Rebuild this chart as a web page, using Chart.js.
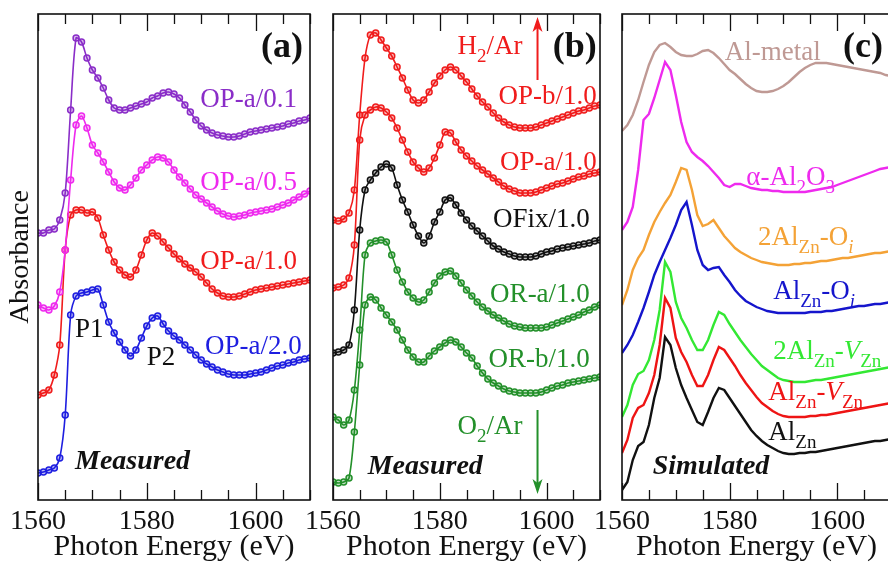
<!DOCTYPE html>
<html>
<head>
<meta charset="utf-8">
<script src="https://cdn.jsdelivr.net/npm/chart.js@4.4.1/dist/chart.umd.min.js"></script>
<style>
  html, body { margin: 0; padding: 0; background: #fff; overflow: hidden; }
  #wrap { position: relative; width: 888px; height: 567px; overflow: hidden; }
  canvas { position: absolute; top: 0; }
</style>
</head>
<body>
<div id="wrap">
  <canvas id="pa" width="320" height="567" style="left:0px"></canvas>
  <canvas id="pb" width="310" height="567" style="left:300px"></canvas>
  <canvas id="pc" width="312" height="567" style="left:589px"></canvas>
</div>
<script>
// photon energy grid (eV), shared by every spectrum
var ENERGY = [
  1560, 1561, 1562, 1563, 1564, 1565, 1566, 1567, 1568, 1569,
  1570, 1571, 1572, 1573, 1574, 1575, 1576, 1577, 1578, 1579,
  1580, 1581, 1582, 1583, 1584, 1585, 1586, 1587, 1588, 1589,
  1590, 1591, 1592, 1593, 1594, 1595, 1596, 1597, 1598, 1599,
  1600, 1601, 1602, 1603, 1604, 1605, 1606, 1607, 1608, 1609,
  1610
];
var X_TICK_LABELS = [1560, 1580, 1600];

// (a) measured, stacked absorbance (arb. units)
var OPA_01 = [
  2.67, 2.67, 2.70, 2.71, 2.80, 3.07, 3.90, 4.62, 4.58, 4.42,
  4.30, 4.22, 4.12, 4.00, 3.92, 3.90, 3.90, 3.92, 3.94, 3.96,
  3.98, 4.02, 4.04, 4.07, 4.08, 4.06, 4.02, 3.95, 3.88, 3.80,
  3.74, 3.70, 3.67, 3.65, 3.64, 3.63, 3.63, 3.64, 3.66, 3.68,
  3.69, 3.70, 3.71, 3.72, 3.73, 3.74, 3.76, 3.77, 3.79, 3.80,
  3.82
];
var OPA_05 = [
  1.95, 1.92, 1.90, 1.94, 2.08, 2.50, 3.20, 3.75, 3.84, 3.72,
  3.55, 3.47, 3.38, 3.28, 3.18, 3.12, 3.10, 3.15, 3.22, 3.30,
  3.35, 3.40, 3.43, 3.42, 3.38, 3.30, 3.23, 3.17, 3.11, 3.05,
  3.01, 2.97, 2.93, 2.89, 2.86, 2.84, 2.83, 2.84, 2.85, 2.87,
  2.88, 2.89, 2.90, 2.91, 2.93, 2.95, 2.97, 3.00, 3.03, 3.06,
  3.09
];
var OPA_10 = [
  1.05, 1.07, 1.10, 1.25, 1.55, 2.50, 2.85, 2.90, 2.90, 2.87,
  2.88, 2.82, 2.65, 2.50, 2.38, 2.30, 2.25, 2.23, 2.30, 2.45,
  2.60, 2.67, 2.64, 2.58, 2.52, 2.46, 2.41, 2.36, 2.32, 2.28,
  2.23, 2.17, 2.11, 2.07, 2.04, 2.03, 2.03, 2.04, 2.06, 2.08,
  2.10, 2.11, 2.12, 2.13, 2.14, 2.15, 2.16, 2.17, 2.18, 2.19,
  2.20
];
var OPA_20 = [
  0.27, 0.28, 0.30, 0.32, 0.42, 0.85, 1.85, 2.04, 2.07, 2.08,
  2.10, 2.11, 1.95, 1.78, 1.67, 1.58, 1.50, 1.44, 1.50, 1.62,
  1.74, 1.82, 1.84, 1.76, 1.69, 1.64, 1.60, 1.55, 1.50, 1.45,
  1.40, 1.36, 1.33, 1.30, 1.28, 1.26, 1.25, 1.25, 1.25, 1.26,
  1.27, 1.28, 1.30, 1.32, 1.34, 1.35, 1.37, 1.38, 1.40, 1.41,
  1.42
];

// (b) measured
var OPB_10B = [
  2.80, 2.79, 2.81, 2.87, 3.10, 3.85, 4.42, 4.65, 4.67, 4.60,
  4.52, 4.44, 4.33, 4.22, 4.10, 4.00, 3.97, 4.00, 4.08, 4.17,
  4.24, 4.30, 4.33, 4.30, 4.24, 4.18, 4.11, 4.04, 3.98, 3.93,
  3.87, 3.82, 3.78, 3.75, 3.73, 3.72, 3.72, 3.72, 3.73, 3.75,
  3.77, 3.79, 3.81, 3.83, 3.85, 3.87, 3.89, 3.90, 3.92, 3.94,
  3.95
];
var OPA_10B = [
  2.12, 2.13, 2.15, 2.22, 2.55, 3.60, 3.85, 3.90, 3.93, 3.92,
  3.88, 3.82, 3.72, 3.60, 3.48, 3.38, 3.32, 3.28, 3.32, 3.42,
  3.55, 3.68, 3.67, 3.58, 3.50, 3.44, 3.39, 3.34, 3.30, 3.26,
  3.22, 3.18, 3.14, 3.11, 3.09, 3.07, 3.07, 3.07, 3.08, 3.10,
  3.12, 3.14, 3.16, 3.17, 3.19, 3.21, 3.23, 3.24, 3.26, 3.27,
  3.28
];
var OFIX_10 = [
  1.47, 1.48, 1.50, 1.55, 1.90, 2.70, 3.10, 3.20, 3.27, 3.33,
  3.36, 3.32, 3.15, 3.00, 2.88, 2.75, 2.64, 2.57, 2.64, 2.78,
  2.88, 3.00, 3.02, 2.95, 2.87, 2.80, 2.74, 2.69, 2.64, 2.59,
  2.54, 2.51, 2.48, 2.46, 2.44, 2.43, 2.43, 2.43, 2.44, 2.46,
  2.48, 2.49, 2.51, 2.52, 2.53, 2.54, 2.55, 2.56, 2.57, 2.59,
  2.60
];
var ORA_10 = [
  0.83, 0.80, 0.75, 0.80, 1.10, 1.70, 2.45, 2.57, 2.59, 2.60,
  2.58, 2.45, 2.30, 2.18, 2.08, 2.02, 1.98, 2.00, 2.08, 2.17,
  2.24, 2.28, 2.29, 2.24, 2.17, 2.10, 2.04, 1.98, 1.93, 1.89,
  1.85, 1.82, 1.79, 1.76, 1.74, 1.73, 1.72, 1.72, 1.72, 1.72,
  1.73, 1.75, 1.77, 1.79, 1.81, 1.83, 1.85, 1.88, 1.90, 1.93,
  1.95
];
var ORB_10 = [
  0.18, 0.17, 0.18, 0.22, 0.68, 1.35, 1.95, 2.03, 2.00, 1.92,
  1.85, 1.78, 1.70, 1.60, 1.50, 1.43, 1.38, 1.38, 1.44, 1.49,
  1.53, 1.57, 1.60, 1.58, 1.53, 1.47, 1.42, 1.34, 1.27, 1.21,
  1.17, 1.14, 1.11, 1.09, 1.08, 1.07, 1.07, 1.07, 1.07, 1.08,
  1.10, 1.12, 1.14, 1.15, 1.17, 1.18, 1.19, 1.20, 1.21, 1.22,
  1.23
];

// (c) simulated
var AL_METAL = [
  3.69, 3.75, 3.85, 4.00, 4.18, 4.35, 4.48, 4.55, 4.57, 4.53,
  4.48, 4.45, 4.44, 4.44, 4.46, 4.49, 4.50, 4.47, 4.42, 4.36,
  4.30, 4.26, 4.21, 4.16, 4.12, 4.09, 4.08, 4.08, 4.09, 4.11,
  4.14, 4.18, 4.23, 4.28, 4.32, 4.35, 4.37, 4.37, 4.37, 4.36,
  4.35, 4.34, 4.33, 4.32, 4.31, 4.30, 4.29, 4.28, 4.27, 4.25,
  4.24
];
var ALPHA_AL2O3 = [
  2.70, 2.78, 2.93, 3.30, 3.80, 3.86, 4.02, 4.20, 4.38, 4.30,
  4.05, 3.78, 3.58, 3.48, 3.43, 3.39, 3.34, 3.28, 3.22, 3.15,
  3.13, 3.16, 3.16, 3.14, 3.12, 3.11, 3.10, 3.10, 3.09, 3.09,
  3.08, 3.08, 3.08, 3.08, 3.08, 3.09, 3.10, 3.11, 3.12, 3.13,
  3.15, 3.17, 3.19, 3.21, 3.23, 3.25, 3.27, 3.29, 3.31, 3.32,
  3.33
];
var AL2_OI = [
  1.95, 2.10, 2.30, 2.42, 2.50, 2.65, 2.78, 2.88, 2.97, 3.05,
  3.18, 3.32, 3.30, 3.10, 2.85, 2.74, 2.76, 2.80, 2.72, 2.64,
  2.58, 2.52, 2.48, 2.45, 2.42, 2.40, 2.38, 2.37, 2.36, 2.35,
  2.35, 2.35, 2.36, 2.36, 2.37, 2.37, 2.38, 2.39, 2.39, 2.40,
  2.41, 2.42, 2.42, 2.43, 2.44, 2.45, 2.46, 2.47, 2.47, 2.48,
  2.49
];
var AL_OI = [
  1.47, 1.55, 1.65, 1.78, 1.92, 2.08, 2.25, 2.38, 2.50, 2.62,
  2.75, 2.90, 2.98, 2.75, 2.50, 2.35, 2.30, 2.32, 2.33, 2.25,
  2.18, 2.10, 2.04, 1.99, 1.96, 1.93, 1.91, 1.89, 1.88, 1.87,
  1.87, 1.87, 1.87, 1.87, 1.87, 1.88, 1.88, 1.88, 1.89, 1.89,
  1.90, 1.91, 1.92, 1.93, 1.94, 1.94, 1.95, 1.96, 1.96, 1.97,
  1.98
];
var AL2_VZN = [
  0.83, 0.95, 1.15, 1.26, 1.29, 1.40, 1.60, 1.90, 2.38, 2.28,
  1.98, 1.82, 1.72, 1.60, 1.50, 1.50, 1.60, 1.75, 1.88, 1.85,
  1.76, 1.68, 1.60, 1.53, 1.46, 1.40, 1.34, 1.30, 1.26, 1.22,
  1.20, 1.19, 1.18, 1.18, 1.18, 1.19, 1.20, 1.20, 1.21, 1.22,
  1.23, 1.24, 1.25, 1.26, 1.27, 1.28, 1.29, 1.30, 1.31, 1.32,
  1.33
];
var AL_VZN = [
  0.47, 0.60, 0.82, 0.92, 0.95, 1.07, 1.25, 1.55, 2.02, 1.92,
  1.62, 1.48, 1.38, 1.25, 1.14, 1.14, 1.25, 1.40, 1.53, 1.50,
  1.42, 1.34, 1.25, 1.17, 1.10, 1.03, 0.97, 0.93, 0.89, 0.86,
  0.84, 0.83, 0.83, 0.83, 0.83, 0.84, 0.84, 0.85, 0.85, 0.86,
  0.87, 0.88, 0.89, 0.90, 0.91, 0.92, 0.93, 0.94, 0.95, 0.96,
  0.97
];
var AL_ZN = [
  0.10, 0.18, 0.40, 0.54, 0.58, 0.75, 1.02, 1.22, 1.63, 1.55,
  1.32, 1.15, 1.02, 0.90, 0.78, 0.75, 0.88, 1.02, 1.12, 1.10,
  1.02, 0.94, 0.86, 0.78, 0.70, 0.64, 0.59, 0.55, 0.52, 0.49,
  0.47, 0.46, 0.46, 0.47, 0.47, 0.48, 0.48, 0.49, 0.50, 0.51,
  0.52, 0.53, 0.54, 0.55, 0.56, 0.57, 0.58, 0.59, 0.59, 0.60,
  0.61
];

var SERIF = "'Liberation Serif', 'Times New Roman', serif";
var PURPLE = "#8a2dc8", MAGENTA = "#ee2aee", RED = "#f01c1c", BLUE = "#1e1ee0";
var DKGREEN = "#23902a", BLACK = "#111", ROSY = "#bf9994", ORANGE = "#f4a236";
var BLUE_C = "#1515cc", GREEN_C = "#33e833", RED_C = "#ee1414";

function pts(vals) {
  return ENERGY.map(function (e, i) { return { x: e, y: vals[i] }; });
}

// translucent fill so the open circles read a little denser, like the scanned dots
function fade(hex, a) {
  var n = parseInt(hex.length === 4 ? hex.replace(/#(.)(.)(.)/, "$1$1$2$2$3$3") : hex.slice(1), 16);
  return "rgba(" + (n >> 16) + "," + ((n >> 8) & 255) + "," + (n & 255) + "," + a + ")";
}

function measured(vals, color) {
  return {
    data: pts(vals), borderColor: color, borderWidth: 1.6, tension: 0.3,
    pointRadius: 3, pointBorderWidth: 1.5, pointBorderColor: color,
    pointBackgroundColor: fade(color, 0.3)
  };
}

function simulated(vals, color) {
  return { data: pts(vals), borderColor: color, borderWidth: 2.4, tension: 0, pointRadius: 0 };
}

// segs: [text, style]  style: s = subscript, i = italic, b = bold
function drawNote(ctx, chart, n) {
  var size = n.size || 27;
  var px = chart.scales.x.getPixelForValue(n.x);
  var py = chart.scales.y.getPixelForValue(n.y);
  function fontOf(st) {
    st = st || "";
    var fs = st.indexOf("s") >= 0 ? Math.round(size * 0.7) : size;
    return (st.indexOf("i") >= 0 ? "italic " : "") + (st.indexOf("b") >= 0 ? "bold " : "") + fs + "px " + SERIF;
  }
  var w = 0;
  n.segs.forEach(function (s) { ctx.font = fontOf(s[1]); w += ctx.measureText(s[0]).width; });
  var x = n.align === "right" ? px - w : px;
  ctx.fillStyle = n.color || "#111";
  ctx.textBaseline = "middle";
  ctx.textAlign = "left";
  n.segs.forEach(function (s) {
    ctx.font = fontOf(s[1]);
    var dy = (s[1] || "").indexOf("s") >= 0 ? size * 0.38 : 0;
    ctx.fillText(s[0], x, py + dy);
    x += ctx.measureText(s[0]).width;
  });
}

function drawArrow(ctx, chart, a) {
  var px = chart.scales.x.getPixelForValue(a.x);
  var y1 = chart.scales.y.getPixelForValue(a.from);
  var y2 = chart.scales.y.getPixelForValue(a.to);
  var dir = y2 < y1 ? -1 : 1;
  ctx.strokeStyle = a.color; ctx.fillStyle = a.color; ctx.lineWidth = 2;
  ctx.beginPath(); ctx.moveTo(px, y1); ctx.lineTo(px, y2 - dir * 10); ctx.stroke();
  ctx.beginPath();
  ctx.moveTo(px, y2); ctx.lineTo(px - 5, y2 - dir * 15); ctx.lineTo(px, y2 - dir * 11);
  ctx.lineTo(px + 5, y2 - dir * 15); ctx.closePath(); ctx.fill();
}

function framePlugin(notes, arrows) {
  return {
    id: "frame",
    afterDatasetsDraw: function (chart) {
      var ctx = chart.ctx, a = chart.chartArea, xs = chart.scales.x;
      ctx.save();
      ctx.strokeStyle = "#111";
      ctx.lineWidth = 1.6;
      ctx.strokeRect(a.left, a.top, a.right - a.left, a.bottom - a.top);
      ctx.lineWidth = 1.3;
      xs.ticks.forEach(function (t) {
        var px = Math.round(xs.getPixelForValue(t.value)) + 0.5;
        var len = t.value % 20 === 0 ? 17 : 10;
        ctx.beginPath();
        ctx.moveTo(px, a.bottom); ctx.lineTo(px, a.bottom - len);
        ctx.moveTo(px, a.top); ctx.lineTo(px, a.top + len);
        ctx.stroke();
      });
      (arrows || []).forEach(function (ar) { drawArrow(ctx, chart, ar); });
      notes.forEach(function (n) { drawNote(ctx, chart, n); });
      ctx.restore();
    }
  };
}

function makePanel(id, datasets, padLeft, yTitle, notes, arrows) {
  var yScale = { min: 0, max: 4.86, display: false };
  if (yTitle) {
    yScale = {
      min: 0, max: 4.86, display: true,
      afterFit: function (s) { s.width = 38; },
      grid: { display: false, drawTicks: false }, border: { display: false },
      ticks: { display: false },
      title: { display: true, text: yTitle, color: "#111", font: { family: SERIF, size: 28 }, padding: { top: 4, bottom: 0 } }
    };
  }
  return new Chart(document.getElementById(id), {
    type: "line",
    data: { datasets: datasets },
    options: {
      responsive: false, animation: false, events: [],
      layout: { padding: { top: 14, right: 10, bottom: 0, left: padLeft } },
      plugins: { legend: { display: false }, tooltip: { enabled: false } },
      scales: {
        x: {
          type: "linear", min: 1560, max: 1610,
          afterFit: function (s) { s.height = 67; },
          grid: { display: false, drawTicks: false }, border: { display: false },
          ticks: {
            stepSize: 5, autoSkip: false, maxRotation: 0, padding: 5, color: "#111",
            font: { family: SERIF, size: 28 },
            callback: function (v) { return X_TICK_LABELS.indexOf(v) >= 0 ? String(v) : ""; }
          },
          title: { display: true, text: "Photon Energy (eV)", color: "#111", font: { family: SERIF, size: 30 }, padding: { top: 0, bottom: 2 } }
        },
        y: yScale
      }
    },
    plugins: [framePlugin(notes, arrows)]
  });
}

makePanel("pa", [
  measured(OPA_01, PURPLE), measured(OPA_05, MAGENTA),
  measured(OPA_10, RED), measured(OPA_20, BLUE)
], 0, "Absorbance", [
  { x: 1608.7, y: 4.52, align: "right", size: 36, segs: [["(a)", "b"]] },
  { x: 1607.6, y: 4.00, align: "right", color: PURPLE, segs: [["OP-a/0.1"]] },
  { x: 1607.6, y: 3.17, align: "right", color: MAGENTA, segs: [["OP-a/0.5"]] },
  { x: 1607.6, y: 2.38, align: "right", color: RED, segs: [["OP-a/1.0"]] },
  { x: 1608.5, y: 1.53, align: "right", color: BLUE, segs: [["OP-a/2.0"]] },
  { x: 1566.8, y: 1.70, segs: [["P1"]] },
  { x: 1580.0, y: 1.42, segs: [["P2"]] },
  { x: 1566.8, y: 0.38, size: 28, segs: [["Measured", "bi"]] }
]);

makePanel("pb", [
  measured(OPB_10B, RED), measured(OPA_10B, RED), measured(OFIX_10, BLACK),
  measured(ORA_10, DKGREEN), measured(ORB_10, DKGREEN)
], 30, null, [
  { x: 1609.4, y: 4.52, align: "right", size: 36, segs: [["(b)", "b"]] },
  { x: 1595.5, y: 4.53, align: "right", color: RED, segs: [["H"], ["2", "s"], ["/Ar"]] },
  { x: 1609.4, y: 4.03, align: "right", color: RED, segs: [["OP-b/1.0"]] },
  { x: 1609.4, y: 3.37, align: "right", color: RED, segs: [["OP-a/1.0"]] },
  { x: 1608.1, y: 2.80, align: "right", color: BLACK, segs: [["OFix/1.0"]] },
  { x: 1608.1, y: 2.05, align: "right", color: DKGREEN, segs: [["OR-a/1.0"]] },
  { x: 1608.1, y: 1.40, align: "right", color: DKGREEN, segs: [["OR-b/1.0"]] },
  { x: 1595.5, y: 0.73, align: "right", color: DKGREEN, segs: [["O"], ["2", "s"], ["/Ar"]] },
  { x: 1566.5, y: 0.33, size: 28, segs: [["Measured", "bi"]] }
], [
  { x: 1598.3, from: 4.20, to: 4.83, color: RED },
  { x: 1598.3, from: 0.90, to: 0.06, color: DKGREEN }
]);

makePanel("pc", [
  simulated(AL_METAL, ROSY), simulated(ALPHA_AL2O3, MAGENTA), simulated(AL2_OI, ORANGE),
  simulated(AL_OI, BLUE_C), simulated(AL2_VZN, GREEN_C), simulated(AL_VZN, RED_C), simulated(AL_ZN, BLACK)
], 30, null, [
  { x: 1601.1, y: 4.52, size: 36, segs: [["(c)", "b"]] },
  { x: 1579.1, y: 4.47, color: ROSY, segs: [["Al-metal"]] },
  { x: 1583.1, y: 3.22, color: MAGENTA, segs: [["\u03b1-Al"], ["2", "s"], ["O"], ["3", "s"]] },
  { x: 1585.3, y: 2.62, color: ORANGE, segs: [["2Al"], ["Zn", "s"], ["-O"], ["i", "si"]] },
  { x: 1588.1, y: 2.08, color: BLUE_C, segs: [["Al"], ["Zn", "s"], ["-O"], ["i", "si"]] },
  { x: 1588.1, y: 1.48, color: GREEN_C, segs: [["2Al"], ["Zn", "s"], ["-"], ["V", "i"], ["Zn", "s"]] },
  { x: 1587.2, y: 1.07, color: RED_C, segs: [["Al"], ["Zn", "s"], ["-"], ["V", "i"], ["Zn", "s"]] },
  { x: 1587.2, y: 0.67, color: BLACK, segs: [["Al"], ["Zn", "s"]] },
  { x: 1565.7, y: 0.33, size: 28, segs: [["Simulated", "bi"]] }
]);
</script>
</body>
</html>
